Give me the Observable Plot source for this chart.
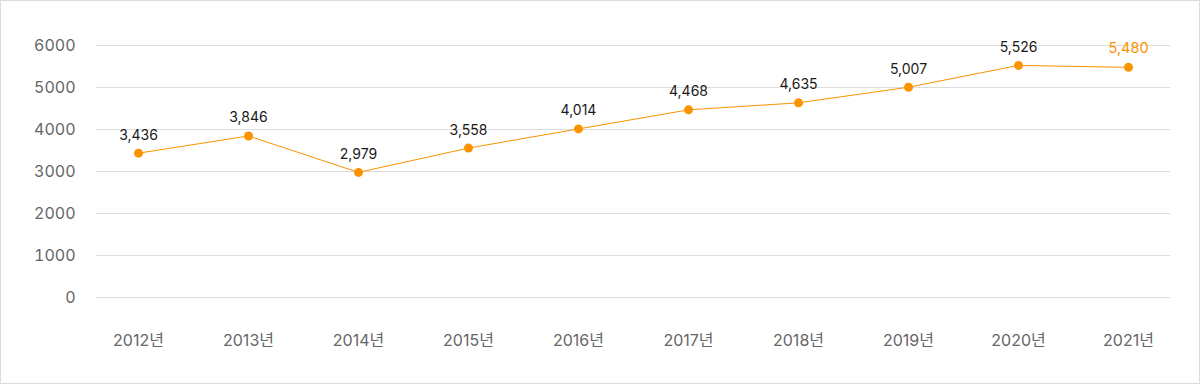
<!DOCTYPE html>
<html>
<head>
<meta charset="utf-8">
<script src="https://cdn.jsdelivr.net/npm/d3@7"></script>
<script src="https://cdn.jsdelivr.net/npm/@observablehq/plot@0.6"></script>
<style>
  html, body { margin: 0; padding: 0; background: #fff; }
  #chart { position: relative; width: 1200px; height: 384px; outline: 1px solid #dcdcdc; outline-offset: -1px; }
  #chart svg { display: block; }
</style>
</head>
<body>
<div id="chart"></div>
<script>
const years = ["2012년","2013년","2014년","2015년","2016년","2017년","2018년","2019년","2020년","2021년"];
const values = [3436, 3846, 2979, 3558, 4014, 4468, 4635, 5007, 5526, 5480];
const yTicks = [0, 1000, 2000, 3000, 4000, 5000, 6000];

const orange = "#f99300";
const data = years.map((y, i) => ({year: y, value: values[i], last: i === years.length - 1}));
const fmt = d3.format(",");

const chart = Plot.plot({
  width: 1200,
  height: 384,
  marginLeft: 96,
  marginRight: 30,
  marginTop: 45,
  marginBottom: 87,
  style: {fontFamily: "Inter, 'Noto Sans CJK KR', sans-serif", background: "transparent"},
  x: {type: "point", domain: years, padding: 0.368},
  y: {domain: [0, 6000]},
  marks: [
    Plot.gridY(yTicks, {stroke: "#dddddd", strokeOpacity: 1, strokeWidth: 1}),
    Plot.axisY(yTicks, {tickSize: 0, tickPadding: 21, fontSize: 16, fill: "#666", tickFormat: d => String(d), label: null}),
    Plot.axisX({tickSize: 0, tickPadding: 37, fontSize: 16, fill: "#666", label: null}),
    Plot.line(data, {x: "year", y: "value", stroke: orange, strokeWidth: 1}),
    Plot.dot(data, {x: "year", y: "value", r: 4.5, fill: orange, stroke: null}),
    Plot.text(data.filter(d => !d.last), {x: "year", y: "value", text: d => fmt(d.value), dy: -18, fontSize: 14, fill: "#1a1a1a"}),
    Plot.text(data.filter(d => d.last), {x: "year", y: "value", text: d => fmt(d.value), dy: -19, fontSize: 14.5, fill: orange})
  ]
});
document.getElementById("chart").appendChild(chart);
</script>
</body>
</html>
